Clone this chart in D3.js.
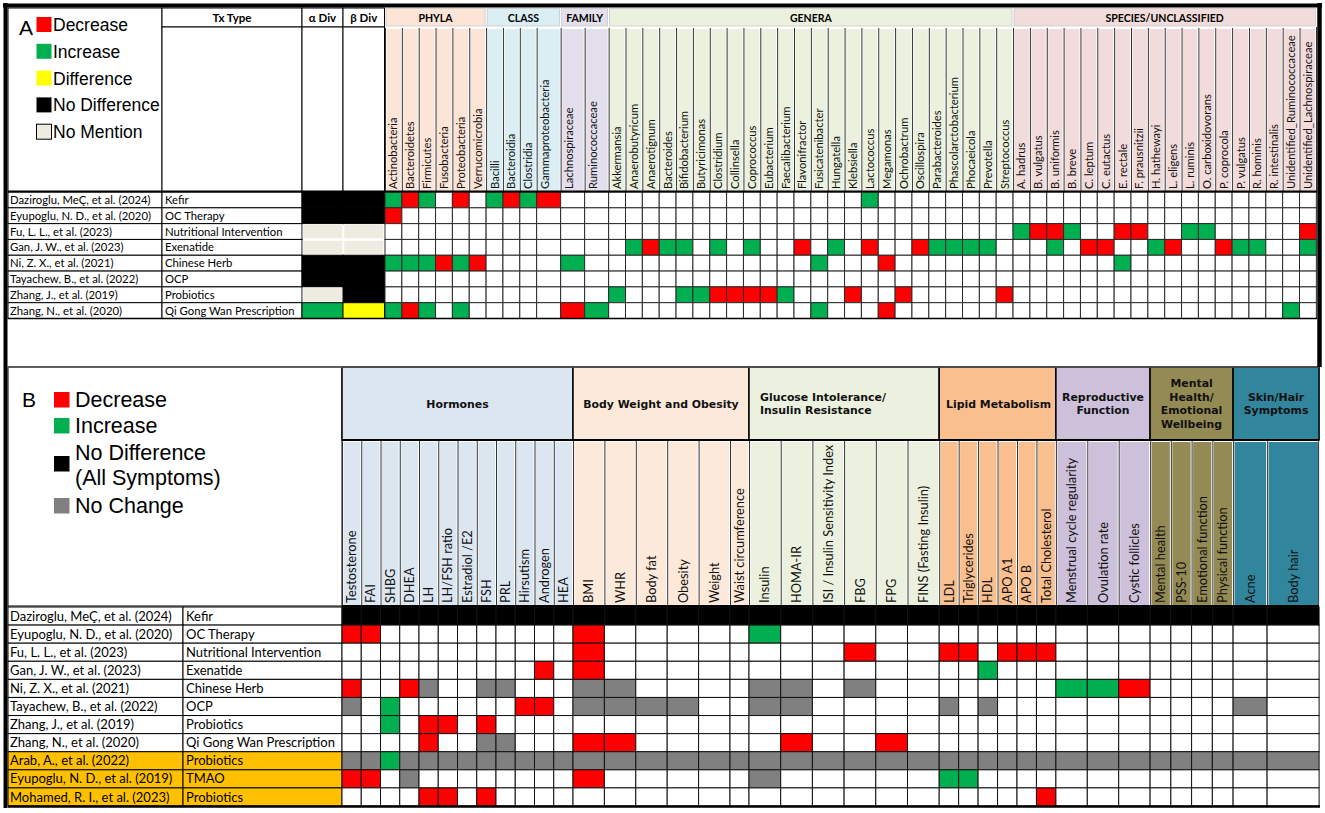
<!DOCTYPE html>
<html><head><meta charset="utf-8">
<script src="https://cdn.jsdelivr.net/npm/d3@7"></script>
<style>body{margin:0;background:#fff}svg{display:block}</style>
</head><body><svg id="c" width="1325" height="813"></svg>
<script>
// ================= DATA =================
// Panel A
const studiesA = ["Daziroglu, MeÇ, et al. (2024)","Eyupoglu, N. D., et al. (2020)","Fu, L. L., et al. (2023)","Gan, J. W., et al. (2023)","Ni, Z. X., et al. (2021)","Tayachew, B., et al. (2022)","Zhang, J., et al. (2019)","Zhang, N., et al. (2020)"];
const txTypesA = ["Kefir","OC Therapy","Nutritional Intervention","Exenatide","Chinese Herb","OCP","Probiotics","Qi Gong Wan Prescription"];
// codes: D decrease, I increase, Y difference, N no difference, M no mention, C no change
const alphaDiv = ["N","N","M","M","N","N","M","I"];
const betaDiv  = ["N","N","M","M","N","N","N","Y"];
const phyla = ["Actinobacteria","Bacteroidetes","Firmicutes","Fusobacteria","Proteobacteria","Verrucomicrobia"];
const classes = ["Bacilli","Bacteroidia","Clostridia","Gammaproteobacteria"];
const families = ["Lachnospiraceae","Ruminococcaceae"];
const genera = ["Akkermansia","Anaerobutyricum","Anaerotignum","Bacteroides","Bifidobacterium","Butyricimonas","Clostridium","Collinsella","Coprococcus","Eubacterium","Faecalibacterium","Flavonifractor","Fusicatenibacter","Hungatella","Klebsiella","Lactococcus","Megamonas","Ochrobactrum","Oscillospira","Parabacteroides","Phascolarctobacterium","Phocaeicola","Prevotella","Streptococcus"];
const species = ["A. hadrus","B. vulgatus","B. uniformis","B. breve","C. leptum","C. eutactus","E. rectale","F. prausnitzii","H. hathewayi","L. eligens","L. ruminis","O. carboxidovorans","P. coprocola","P. vulgatus","R. hominis","R. intestinalis","Unidentified_Ruminococcaceae","Unidentified_Lachnospiraceae"];
const taxaEffects = [
  [["Actinobacteria","I"],["Bacteroidetes","D"],["Firmicutes","I"],["Proteobacteria","D"],["Bacilli","I"],["Bacteroidia","D"],["Clostridia","I"],["Gammaproteobacteria","D"],["Lactococcus","I"]],
  [["Actinobacteria","D"]],
  [["A. hadrus","I"],["B. vulgatus","D"],["B. uniformis","D"],["B. breve","I"],["E. rectale","D"],["F. prausnitzii","D"],["L. ruminis","I"],["O. carboxidovorans","I"],["Unidentified_Lachnospiraceae","D"]],
  [["Anaerobutyricum","I"],["Anaerotignum","D"],["Bacteroides","I"],["Bifidobacterium","I"],["Clostridium","I"],["Coprococcus","I"],["Flavonifractor","D"],["Hungatella","I"],["Lactococcus","D"],["Oscillospira","D"],["Parabacteroides","I"],["Phascolarctobacterium","I"],["Phocaeicola","I"],["Prevotella","I"],["B. uniformis","I"],["C. leptum","D"],["C. eutactus","D"],["H. hathewayi","I"],["L. eligens","D"],["P. coprocola","D"],["P. vulgatus","I"],["R. hominis","I"],["Unidentified_Lachnospiraceae","I"]],
  [["Actinobacteria","I"],["Bacteroidetes","I"],["Firmicutes","I"],["Fusobacteria","D"],["Proteobacteria","I"],["Verrucomicrobia","D"],["Lachnospiraceae","I"],["Fusicatenibacter","I"],["Megamonas","D"],["E. rectale","I"]],
  [],
  [["Akkermansia","I"],["Bifidobacterium","I"],["Butyricimonas","I"],["Clostridium","D"],["Collinsella","D"],["Coprococcus","D"],["Eubacterium","D"],["Faecalibacterium","I"],["Klebsiella","D"],["Ochrobactrum","D"],["Streptococcus","D"]],
  [["Actinobacteria","I"],["Bacteroidetes","D"],["Firmicutes","I"],["Proteobacteria","I"],["Lachnospiraceae","D"],["Ruminococcaceae","I"],["Fusicatenibacter","I"],["Megamonas","D"],["Unidentified_Ruminococcaceae","I"]]
];
const legendA = [["D","Decrease"],["I","Increase"],["Y","Difference"],["N","No Difference"],["M","No Mention"]];

// Panel B
const studiesB = ["Daziroglu, MeÇ, et al. (2024)","Eyupoglu, N. D., et al. (2020)","Fu, L. L., et al. (2023)","Gan, J. W., et al. (2023)","Ni, Z. X., et al. (2021)","Tayachew, B., et al. (2022)","Zhang, J., et al. (2019)","Zhang, N., et al. (2020)","Arab, A., et al. (2022)","Eyupoglu, N. D., et al. (2019)","Mohamed, R. I., et al. (2023)"];
const txTypesB = ["Kefir","OC Therapy","Nutritional Intervention","Exenatide","Chinese Herb","OCP","Probiotics","Qi Gong Wan Prescription","Probiotics","TMAO","Probiotics"];
const highlightedB = [false,false,false,false,false,false,false,false,true,true,true];
const hormones = ["Testosterone","FAI","SHBG","DHEA","LH","LH/FSH ratio","Estradiol /E2","FSH","PRL","Hirsutism","Androgen","HEA"];
const bodyWeight = ["BMI","WHR","Body fat","Obesity","Weight","Waist circumference"];
const glucose = ["Insulin","HOMA-IR","ISI / Insulin Sensitivity Index","FBG","FPG","FINS (Fasting Insulin)"];
const lipid = ["LDL","Triglycerides","HDL","APO A1","APO B","Total Cholesterol"];
const reproductive = ["Menstrual cycle regularity","Ovulation rate","Cystic follicles"];
const mental = ["Mental health","PSS-10","Emotional function","Physical function"];
const skinHair = ["Acne","Body hair"];
const rowDefaultB = ["N","","","","","","","","C","",""];
const symptomEffects = [
  [],
  [["Testosterone","D"],["FAI","D"],["BMI","D"],["Insulin","I"]],
  [["BMI","D"],["FBG","D"],["LDL","D"],["Triglycerides","D"],["APO A1","D"],["APO B","D"],["Total Cholesterol","D"]],
  [["Androgen","D"],["BMI","D"],["HDL","I"]],
  [["Testosterone","D"],["DHEA","D"],["LH","C"],["FSH","C"],["PRL","C"],["BMI","C"],["WHR","C"],["Insulin","C"],["HOMA-IR","C"],["FBG","C"],["Menstrual cycle regularity","I"],["Ovulation rate","I"],["Cystic follicles","D"]],
  [["Testosterone","C"],["SHBG","I"],["Hirsutism","D"],["Androgen","D"],["BMI","C"],["WHR","C"],["Body fat","C"],["Obesity","C"],["Insulin","C"],["HOMA-IR","C"],["LDL","C"],["HDL","C"],["Acne","C"]],
  [["SHBG","I"],["LH","D"],["LH/FSH ratio","D"],["FSH","D"]],
  [["LH","D"],["FSH","C"],["PRL","C"],["BMI","D"],["WHR","D"],["HOMA-IR","D"],["FPG","D"]],
  [["SHBG","I"]],
  [["Testosterone","D"],["FAI","D"],["DHEA","C"],["BMI","D"],["Insulin","C"],["LDL","I"],["Triglycerides","I"]],
  [["LH","D"],["LH/FSH ratio","D"],["FSH","D"],["Total Cholesterol","D"]]
];
const legendB = [["D",["Decrease"]],["I",["Increase"]],["N",["No Difference","(All Symptoms)"]],["C",["No Change"]]];

// ================= DRAWING =================
const svg = d3.select("#c");
const fillOf = {D:"#FF0000", I:"#00B050", Y:"#FFFF00", N:"#000000", M:"#EEECE1", C:"#808080", "":"#FFFFFF"};
const LBL = "Lato, 'Open Sans', sans-serif";
const HDR = "'DejaVu Sans', Verdana, sans-serif";
const LEG = "'Liberation Sans', Arial, sans-serif";

function layout(groups, x0, widthFn){
  let x = x0; const names=[], xs=[], ws=[];
  groups.forEach(g=>{ g.x0=x; g.cols.forEach(c=>{const w=widthFn(c,g); names.push(c); xs.push(x); ws.push(w); x+=w;}); g.x1=x; });
  return {x:d3.scaleOrdinal(names,xs), w:d3.scaleOrdinal(names,ws), names};
}
function rect(g,x,y,w,h,fill,stroke,sw){
  return g.append("rect").attr("x",x).attr("y",y).attr("width",w).attr("height",h)
    .attr("fill",fill).attr("stroke",stroke||"none").attr("stroke-width",sw||1);
}
function line(x1,y1,x2,y2,stroke,sw){
  svg.append("line").attr("x1",x1).attr("y1",y1).attr("x2",x2).attr("y2",y2).attr("stroke",stroke).attr("stroke-width",sw);
}

// ---------- Panel A ----------
const gA = svg.append("g");
const groupsA = [
  {label:"PHYLA", cols:phyla, fill:"#FCE4D6"},
  {label:"CLASS", cols:classes, fill:"#DAEEF3"},
  {label:"FAMILY", cols:families, fill:"#E4DFEC"},
  {label:"GENERA", cols:genera, fill:"#EBF1DE"},
  {label:"SPECIES/UNCLASSIFIED", cols:species, fill:"#F2DCDB"}];
const wideA = new Set(["Gammaproteobacteria","Lachnospiraceae","Ruminococcaceae"]);
const LA = layout(groupsA, 385, c=> wideA.has(c)?24:16.85);
const yA = d3.scaleBand().domain(d3.range(studiesA.length)).range([192,318.5]);
const topA=8, midA=27, botHdrA=191.5;

// legend box A
rect(gA,8,topA,154,botHdrA-topA,"#fff","#000",1);
gA.append("text").attr("x",19).attr("y",35).attr("font-family",LEG).attr("font-size",21).text("A");
legendA.forEach((d,i)=>{
  const y = 17 + i*26.8;
  rect(gA,36.5,y,15,15,fillOf[d[0]], d[0]==="M"?"#000":"none",1);
  gA.append("text").attr("x",53).attr("y",y+14).attr("font-family",LEG).attr("font-size",17.5).text(d[1]);
});
// Tx type / diversity headers
[[162,302,"Tx Type"],[302,343,"α Div"],[343,384.5,"β Div"]].forEach(d=>{
  rect(gA,d[0],topA,d[1]-d[0],midA-topA,"#fff","#000",1);
  rect(gA,d[0],midA,d[1]-d[0],botHdrA-midA,"#fff","#000",1);
  gA.append("text").attr("x",(d[0]+d[1])/2).attr("y",22).attr("text-anchor","middle")
    .attr("font-family",LBL).attr("font-weight","bold").attr("font-size",11.5).text(d[2]);
});
// group bands and column labels
groupsA.forEach(g=>{
  rect(gA,g.x0+1,topA+0.5,g.x1-g.x0-2,midA-topA-1.5,g.fill,"#bbb",0.6);
  gA.append("text").attr("x",(g.x0+g.x1)/2).attr("y",21.5).attr("text-anchor","middle")
    .attr("font-family",LBL).attr("font-weight","bold").attr("font-size",10.5).text(g.label);
  g.cols.forEach(c=>{
    const x=LA.x(c), w=LA.w(c);
    rect(gA,x+1.5,midA+2,w-2.5,botHdrA-midA-2.5,g.fill);
    line(x+0.5,midA+1,x+0.5,botHdrA,"#333",1);
    gA.append("text").attr("transform",`translate(${x+Math.min(w/2,8.4)+4},${botHdrA-2.5}) rotate(-90)`)
      .attr("font-family",LBL).attr("font-size",11.2).attr("fill","#111").text(c);
  });
});
line(1316.5,midA,1316.5,botHdrA,"#333",1);
// rows A
studiesA.forEach((s,i)=>{
  const y=yA(i), h=yA.bandwidth();
  rect(gA,8,y,154,h,"#fff","#000",1);
  rect(gA,162,y,140,h,"#fff","#000",1);
  gA.append("text").attr("x",10).attr("y",y+h/2+4).attr("font-family",LBL).attr("font-size",11.3).text(s);
  gA.append("text").attr("x",165).attr("y",y+h/2+4).attr("font-family",LBL).attr("font-size",11.3).text(txTypesA[i]);
  [[302,alphaDiv[i]],[343,betaDiv[i]]].forEach(d=>{
    const c=d[1];
    const st = c==="N"?"#000":(c==="M"?"#fff":"#000");
    rect(gA,d[0]+(c==="M"?1:0),y+(c==="M"?1:0),41.5-(c==="M"?2:0),h-(c==="M"?2:0),fillOf[c],st,c==="M"?0.5:1);
  });
  const m = new Map(taxaEffects[i]);
  LA.names.forEach(t=>{
    rect(gA,LA.x(t),y,LA.w(t),h,fillOf[m.get(t)||""],"#2a2a2a",1);
  });
});
line(8,botHdrA,1317,botHdrA,"#000",2);
line(8,318.5,1317,318.5,"#000",1.5);

// ---------- Panel B ----------
const gB = svg.append("g");
const groupsB = [
  {label:["Hormones"], cols:hormones, fill:"#DCE6F1", w:()=>19.25},
  {label:["Body Weight and Obesity"], cols:bodyWeight, fill:"#FDE9D9", w:c=>c==="Waist circumference"?19:31.4},
  {label:["Glucose Intolerance/","Insulin Resistance"], cols:glucose, fill:"#EBF1DE", w:()=>31.7, left:true},
  {label:["Lipid Metabolism"], cols:lipid, fill:"#FABF8F", w:()=>19.45, start:946},
  {label:["Reproductive","Function"], cols:reproductive, fill:"#CCC0DA", w:()=>31.4},
  {label:["Mental","Health/","Emotional","Wellbeing"], cols:mental, fill:"#948A54", w:()=>20.75},
  {label:["Skin/Hair","Symptoms"], cols:skinHair, fill:"#31859C", w:c=>c==="Acne"?34:52}];
const LB = layout(groupsB, 342, (c,g)=>g.w(c));
const yB = d3.scaleBand().domain(d3.range(studiesB.length)).range([607,806]);
const topB=367, midB=440, botHdrB=606;
line(8,topB,1319,topB,"#555",1.5);
rect(gB,8,topB,334,botHdrB-topB,"#fff","#000",1);
gB.append("text").attr("x",22).attr("y",407).attr("font-family",LEG).attr("font-size",21).text("B");
const legYB=[392,418,456,498];
legendB.forEach((d,i)=>{
  const y=legYB[i];
  rect(gB,54,y,15.5,15.5,fillOf[d[0]]);
  const t0 = d[1].length>1 ? y+4 : y+15;
  d[1].forEach((t,k)=>gB.append("text").attr("x",75).attr("y",t0+k*24.5).attr("font-family",LEG).attr("font-size",21.5).text(t));
});
const defs = svg.append("defs");
groupsB.forEach((g,gi)=>{
  rect(gB,g.x0,topB,g.x1-g.x0,midB-topB,g.fill,"#000",1.5);
  defs.append("clipPath").attr("id","cg"+gi).append("rect").attr("x",g.x0+1).attr("y",topB).attr("width",g.x1-g.x0-6).attr("height",midB-topB);
  const n=g.label.length, lh=13.8;
  const cy=(topB+midB)/2 + 4 - (n-1)*lh/2;
  g.label.forEach((t,k)=>{
    gB.append("text").attr("clip-path",`url(#cg${gi})`)
      .attr("x", g.left? g.x0+11 : (g.start? g.start : (g.x0+g.x1)/2))
      .attr("y", cy+k*lh).attr("text-anchor",(g.left||g.start)?"start":"middle")
      .attr("font-family",HDR).attr("font-weight","bold").attr("font-size",10.9).attr("fill","#111").text(t);
  });
  g.cols.forEach(c=>{
    const x=LB.x(c), w=LB.w(c);
    rect(gB,x+1.5,midB+2,w-2.5,botHdrB-midB-2.5,g.fill);
    line(x+0.5,midB+1,x+0.5,botHdrB,"#333",1);
    gB.append("text").attr("transform",`translate(${x+w/2+4.6},${botHdrB-3}) rotate(-90)`)
      .attr("font-family",LBL).attr("font-size",12.8).attr("fill","#111").text(c);
  });
});
line(1318.6,midB,1318.6,botHdrB,"#333",1);
line(342,midB,1319,midB,"#000",2);
// rows B
studiesB.forEach((s,i)=>{
  const y=yB(i), h=yB.bandwidth();
  const bg = highlightedB[i] ? "#FFC000" : "#fff";
  rect(gB,8,y,175,h,bg,"#000",1);
  rect(gB,183,y,159,h,bg,"#000",1);
  gB.append("text").attr("x",10).attr("y",y+h/2+4.6).attr("font-family",LBL).attr("font-size",13).text(s);
  gB.append("text").attr("x",186).attr("y",y+h/2+4.6).attr("font-family",LBL).attr("font-size",13).text(txTypesB[i]);
  const m = new Map(symptomEffects[i]);
  LB.names.forEach(t=>{
    const c = m.get(t) || rowDefaultB[i];
    rect(gB,LB.x(t),y,LB.w(t),h,fillOf[c],"#111",1);
  });
});
line(342,botHdrB,1319,botHdrB,"#000",2);
line(8,806.5,1320,806.5,"#000",2.5);

// outer frame
line(3,5.5,1322,5.5,"#000",4);
line(5.5,3,5.5,808,"#000",4);
line(1319.5,3,1319.5,367,"#000",4.5);
</script>
</body></html>
